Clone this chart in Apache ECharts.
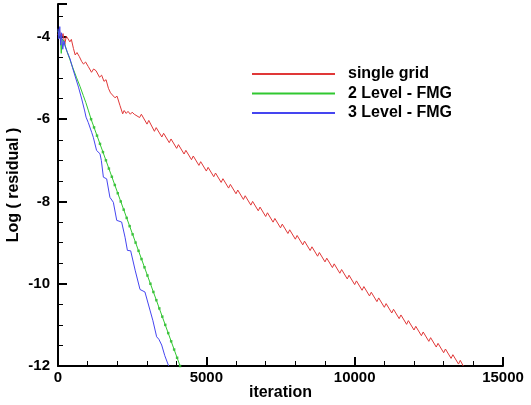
<!DOCTYPE html>
<html><head><meta charset="utf-8">
<script src="https://cdn.jsdelivr.net/npm/echarts@6/dist/echarts.min.js"></script>
<style>html,body{margin:0;padding:0;background:#fff}#c{width:531px;height:405px}</style>
</head><body><div id="c"></div>
<script>
var seriesNames = ['single grid', '2 Level - FMG', '3 Level - FMG'];
var xTicks = [0, 5000, 10000, 15000];
var yTicks = [-12, -10, -8, -6, -4];

var redIter = [0,50,110,170,230,280,340,400,450,520,580,640,720,800,860,930,1020,1130,1200,1280,1400,1470,1550,1620,1700,1770,1830,1920,1990,2090,2180,2230,2300,2360,2440,2500,2570,2630,2750,2810,3000,3060,3250,3310,
  3500,3560,3750,3810,4000,4060,4250,4310,4500,4560,4750,4810,5000,5060,5250,5310,5500,5560,5750,5810,6000,6060,6250,6310,6500,6560,6750,6810,7000,7060,7250,7310,7500,7560,7750,7810,8000,8060,8250,8310,8500,8560,8750,8810,9000,9060,9250,9310,9500,9560,9750,9810,10000,10060,10250,10310,10500,10560,10750,10810,11000,11060,11250,11310,11500,11560,11750,11810,12000,12060,12250,12310,12500,12560,12750,12810,13000,13060,13250,13310,13500,13560,13660];
var redLog = [-3.95,-3.85,-4.05,-3.92,-4.18,-3.98,-4.05,-4.12,-4.06,-4.28,-4.44,-4.38,-4.48,-4.60,-4.66,-4.61,-4.72,-4.86,-4.78,-4.82,-4.98,-4.93,-5.08,-5.04,-5.25,-5.36,-5.32,-5.48,-5.44,-5.67,-5.87,-5.79,-5.86,-5.81,-5.88,-5.83,-5.88,-5.84,-5.96,-5.88,-6.12,-6.03,-6.295,-6.205,
  -6.433,-6.343,-6.571,-6.481,-6.709,-6.619,-6.847,-6.757,-6.985,-6.895,-7.123,-7.033,-7.261,-7.171,-7.399,-7.309,-7.537,-7.447,-7.675,-7.585,-7.813,-7.723,-7.951,-7.861,-8.089,-7.999,-8.227,-8.137,-8.365,-8.275,-8.503,-8.413,-8.641,-8.551,-8.779,-8.689,-8.917,-8.827,-9.055,-8.965,-9.193,-9.103,-9.331,-9.241,-9.469,-9.379,-9.607,-9.517,-9.745,-9.655,-9.883,-9.793,-10.021,-9.931,-10.159,-10.069,-10.297,-10.207,-10.435,-10.345,-10.573,-10.483,-10.711,-10.621,-10.849,-10.759,-10.987,-10.897,-11.125,-11.035,-11.263,-11.173,-11.401,-11.311,-11.539,-11.449,-11.677,-11.587,-11.815,-11.725,-11.953,-11.863,-12.0];

var greenIter = [0,40,80,110,140,200,300,400,515,620,740,850,940,1020,1115,1215,1315,1415,1515,1615,1715,1815,1915,2015,2115,2215,2315,2415,2515,2615,2715,2815,2915,3015,3115,3215,3315,3415,3515,3615,3715,3815,3915,4015,4115];
var greenLog = [-3.85,-3.95,-4.0,-4.4,-4.05,-4.1,-4.35,-4.55,-4.78,-4.98,-5.2,-5.42,-5.6,-5.78,-6.0,-6.2,-6.4,-6.6,-6.8,-7.0,-7.2,-7.4,-7.6,-7.8,-8.0,-8.2,-8.4,-8.6,-8.8,-9.0,-9.2,-9.4,-9.6,-9.8,-10.0,-10.2,-10.4,-10.6,-10.8,-11.0,-11.2,-11.4,-11.6,-11.8,-12.0];

var blueIter = [0,30,60,90,120,160,200,235,320,405,490,575,690,800,900,945,1020,1135,1190,1300,1415,1460,1530,1640,1750,1865,1980,2145,2260,2340,2450,2600,2765,2930,3100,3200,3325,3400,3495,3600,3720,3730];
var blueLog = [-3.8,-4.05,-3.75,-4.2,-3.9,-4.3,-4.1,-4.22,-4.38,-4.53,-4.75,-4.95,-5.22,-5.51,-5.8,-5.95,-6.08,-6.32,-6.44,-6.76,-6.84,-7.0,-7.41,-7.45,-7.9,-8.02,-8.46,-8.5,-8.87,-9.19,-9.2,-9.67,-10.14,-10.2,-10.64,-10.9,-11.29,-11.35,-11.49,-11.75,-11.98,-12.0];

function zip(a, b) { return a.map(function (v, i) { return [v, b[i]]; }); }
var greenDotIter = greenIter.slice(14);
var greenDotLog = greenLog.slice(14);

var colors = ['#e03838', '#30c830', '#4545f0'];
var font = 'Liberation Sans, Arial, Helvetica, sans-serif';
var chart = echarts.init(document.getElementById('c'), null, {renderer: 'canvas'});
chart.setOption({
  animation: false,
  backgroundColor: '#ffffff',
  color: colors,
  grid: {left: 58, right: 28, top: 4, bottom: 39, containLabel: false, outerBoundsMode: 'none'},
  legend: {
    data: seriesNames.map(function (n, i) { return {name: n, icon: 'rect', itemStyle: {color: colors[i]}}; }),
    orient: 'vertical', left: 247, top: 61,
    itemWidth: 83, itemHeight: 2, itemGap: 3.5,
    textStyle: {fontFamily: font, fontWeight: 'bold', fontSize: 16, color: '#000', lineHeight: 16, padding: [0, 0, 0, 8]}
  },
  xAxis: {
    type: 'value', min: xTicks[0], max: xTicks[xTicks.length - 1], interval: 5000,
    name: 'iteration', nameLocation: 'middle', nameGap: 19, nameMoveOverlap: false,
    nameTextStyle: {fontFamily: font, fontWeight: 'bold', fontSize: 16, color: '#000', verticalAlign: 'top'},
    axisLine: {onZero: false, lineStyle: {color: '#000', width: 2}},
    axisTick: {inside: true, length: 9, lineStyle: {color: '#000', width: 2}},
    minorTick: {show: true, splitNumber: 5, length: 5, lineStyle: {color: '#000', width: 1}},
    splitLine: {show: false},
    axisLabel: {fontFamily: font, fontWeight: 'bold', fontSize: 15, color: '#000', margin: 4,
      formatter: function (v) { return String(v); }}
  },
  yAxis: {
    type: 'value', min: yTicks[0], max: -3.2, interval: 2,
    name: 'Log ( residual )', nameLocation: 'middle', nameGap: 36, nameMoveOverlap: false,
    nameTextStyle: {fontFamily: font, fontWeight: 'bold', fontSize: 16, color: '#000'},
    axisLine: {onZero: false, lineStyle: {color: '#000', width: 2}},
    axisTick: {inside: true, length: 9, lineStyle: {color: '#000', width: 2}},
    minorTick: {show: true, splitNumber: 4, length: 5, lineStyle: {color: '#000', width: 1}},
    splitLine: {show: false},
    axisLabel: {fontFamily: font, fontWeight: 'bold', fontSize: 15, color: '#000', margin: 8, showMaxLabel: false,
      formatter: function (v) { return String(v); }}
  },
  series: [
    {name: seriesNames[0], type: 'line', data: zip(redIter, redLog), showSymbol: false, symbol: 'none', z: 3,
     lineStyle: {color: colors[0], width: 1}, itemStyle: {color: colors[0]}},
    {name: seriesNames[1], type: 'line', data: zip(greenIter, greenLog), showSymbol: false, symbol: 'none',
     lineStyle: {color: colors[1], width: 1}, itemStyle: {color: colors[1]}},
    {name: 'green markers', type: 'scatter', data: zip(greenDotIter, greenDotLog), symbol: 'rect', symbolSize: 2.5,
     itemStyle: {color: '#22b022'}, silent: true},
    {name: seriesNames[2], type: 'line', data: zip(blueIter, blueLog), showSymbol: false, symbol: 'none',
     lineStyle: {color: colors[2], width: 1}, itemStyle: {color: colors[2]}}
  ]
});
</script></body></html>
